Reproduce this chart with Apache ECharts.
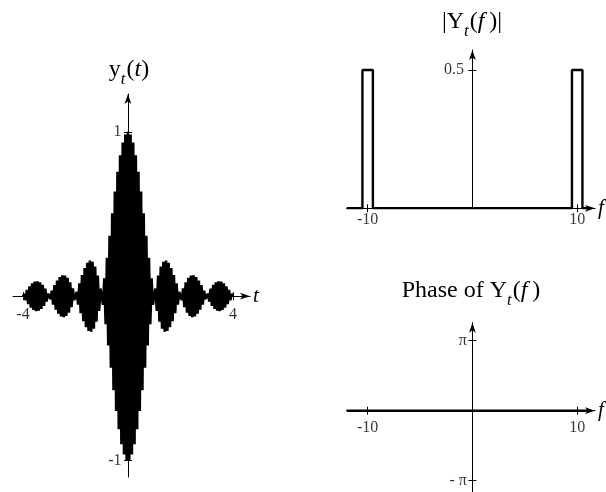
<!DOCTYPE html>
<html>
<head>
<meta charset="utf-8">
<script src="https://cdn.jsdelivr.net/npm/echarts@6/dist/echarts.min.js"></script>
<style>
  html, body { margin: 0; padding: 0; background: #fff; }
  #chart { width: 606px; height: 492px; }
</style>
</head>
<body>
<div id="chart"></div>
<script>
// y_t(t): sinc-modulated 10 Hz carrier, sampled at every carrier half-period (dt = 0.05)
const tStart = -4;
const tStep = 0.05;
const ytValues = [
  0, 0.013, -0.025, 0.038, -0.049, 0.060, -0.070, 0.078, -0.084, 0.089,
  -0.091, 0.091, -0.089, 0.085, -0.078, 0.069, -0.059, 0.046, -0.032, 0.016,
  0, -0.017, 0.034, -0.051, 0.067, -0.082, 0.095, -0.107, 0.116, -0.123,
  0.127, -0.128, 0.126, -0.121, 0.112, -0.100, 0.085, -0.067, 0.047, -0.024,
  0, 0.026, -0.052, 0.078, -0.104, 0.129, -0.152, 0.172, -0.189, 0.203,
  -0.212, 0.217, -0.216, 0.210, -0.198, 0.180, -0.156, 0.126, -0.089, 0.047,
  0, -0.052, 0.109, -0.170, 0.234, -0.300, 0.368, -0.436, 0.505, -0.572,
  0.637, -0.699, 0.757, -0.810, 0.858, -0.900, 0.935, -0.963, 0.984, -0.996,
  1.000,
  -0.996, 0.984, -0.963, 0.935, -0.900, 0.858, -0.810, 0.757, -0.699, 0.637,
  -0.572, 0.505, -0.436, 0.368, -0.300, 0.234, -0.170, 0.109, -0.052, 0,
  0.047, -0.089, 0.126, -0.156, 0.180, -0.198, 0.210, -0.216, 0.217, -0.212,
  0.203, -0.189, 0.172, -0.152, 0.129, -0.104, 0.078, -0.052, 0.026, 0,
  -0.024, 0.047, -0.067, 0.085, -0.100, 0.112, -0.121, 0.126, -0.128, 0.127,
  -0.123, 0.116, -0.107, 0.095, -0.082, 0.067, -0.051, 0.034, -0.017, 0,
  0.016, -0.032, 0.046, -0.059, 0.069, -0.078, 0.085, -0.089, 0.091, -0.091,
  0.089, -0.084, 0.078, -0.070, 0.060, -0.049, 0.038, -0.025, 0.013, 0
];
const tTicks = [-4, 4];
const ytTicks = [-1, 1];

// |Y_t(f)|: two rectangular bands of height 0.5 around +/-10
const magF = [-12, -10.5, -10.5, -9.5, -9.5, 9.5, 9.5, 10.5, 10.5, 11.2];
const magV = [0, 0, 0.5, 0.5, 0, 0, 0.5, 0.5, 0, 0];
const fTicks = [-10, 10];
const magTicks = [0.5];

// Phase of Y_t(f): zero everywhere
const phaseF = [-12, 10.9];
const phaseV = [0, 0];
const phaseTicks = [-Math.PI, Math.PI];

const FONT = 'Liberation Serif';
const BLACK = '#000';

function pairs(xs, ys) { return xs.map((x, i) => [x, ys[i]]); }
const ytData = ytValues.map((v, i) => [tStart + i * tStep, v]);

function labelFmt(v) {
  if (Math.abs(Math.abs(v) - Math.PI) < 1e-6) return v > 0 ? 'π' : '- π';
  return String(v);
}

// Primary x axis: line with arrow, lower half of tick marks
function xMain(gi, min, max, ticks, name, namePad) {
  return {
    type: 'value', gridIndex: gi, min, max, position: 'bottom',
    axisLine: { onZero: true, symbol: ['none', 'arrow'], symbolSize: [5, 10],
      lineStyle: { color: BLACK, width: 1 } },
    axisTick: { customValues: ticks, length: 4, lineStyle: { color: BLACK, width: 1 } },
    axisLabel: { show: false },
    splitLine: { show: false },
    name, nameLocation: 'end', nameGap: 3,
    nameTextStyle: { fontFamily: FONT, fontSize: 21, fontStyle: 'italic', color: BLACK,
      verticalAlign: 'middle', padding: [namePad, 0, 0, 0] }
  };
}
// Mirror x axis: upper half of each tick mark
function xMirror(gi, min, max, ticks) {
  return {
    type: 'value', gridIndex: gi, min, max, position: 'top',
    axisLine: { onZero: true, show: false },
    axisTick: { customValues: ticks, length: 4, lineStyle: { color: BLACK, width: 1 } },
    axisLabel: { show: false }, splitLine: { show: false }
  };
}
function yMain(gi, min, max, ticks) {
  return {
    type: 'value', gridIndex: gi, min, max, position: 'left',
    axisLine: { onZero: true, symbol: ['none', 'arrow'], symbolSize: [5, 10],
      lineStyle: { color: BLACK, width: 1 } },
    axisTick: { customValues: ticks, length: 4, lineStyle: { color: BLACK, width: 1 } },
    axisLabel: { show: false },
    splitLine: { show: false }
  };
}
function yMirror(gi, min, max, ticks) {
  return {
    type: 'value', gridIndex: gi, min, max, position: 'right',
    axisLine: { onZero: true, show: false },
    axisTick: { customValues: ticks, length: 4, lineStyle: { color: BLACK, width: 1 } },
    axisLabel: { show: false }, splitLine: { show: false }
  };
}

// Tick labels sitting next to the zero-crossing axes
function tickLabels(gi, points, position, distance) {
  return {
    type: 'scatter', xAxisIndex: gi, yAxisIndex: gi, silent: true,
    symbolSize: 1, itemStyle: { color: 'rgba(0,0,0,0)' },
    data: points,
    label: { show: true, position, distance, formatter: p => labelFmt(p.value[p.value[0] === 0 ? 1 : 0]),
      fontFamily: FONT, fontSize: 16, color: BLACK },
    z: 5
  };
}

const titleRich = {
  n: { fontFamily: FONT, fontSize: 24, color: BLACK },
  i: { fontFamily: FONT, fontSize: 24, fontStyle: 'italic', color: BLACK },
  s: { fontFamily: FONT, fontSize: 17, fontStyle: 'italic', color: BLACK, padding: [20, 1, 0, 0] }
};
function titleText(x, y, text) {
  return { type: 'text', x, y, style: { text, rich: titleRich, align: 'center', verticalAlign: 'middle' } };
}

const chart = echarts.init(document.getElementById('chart'), null, { renderer: 'canvas' });
chart.setOption({
  animation: false,
  backgroundColor: '#fff',
  grid: [
    { left: 13, top: 94, width: 237, height: 383 },
    { left: 346.7, top: 50, width: 248.3, height: 158.3 },
    { left: 346.7, top: 322.7, width: 248.3, height: 169.3 }
  ],
  xAxis: [
    xMain(0, -4.38, 4.65, tTicks, 't', 4),
    xMain(1, -12, 11.7, fTicks, 'f', 12),
    xMain(2, -12, 11.7, fTicks, 'f', 12),
    xMirror(0, -4.38, 4.65, tTicks),
    xMirror(1, -12, 11.7, fTicks),
    xMirror(2, -12, 11.7, fTicks)
  ],
  yAxis: [
    yMain(0, -1.1, 1.23, ytTicks),
    yMain(1, 0, 0.572, magTicks),
    yMain(2, -3.65, 3.95, phaseTicks),
    yMirror(0, -1.1, 1.23, ytTicks),
    yMirror(1, 0, 0.572, magTicks),
    yMirror(2, -3.65, 3.95, phaseTicks)
  ],
  series: [
    { type: 'line', xAxisIndex: 0, yAxisIndex: 0, data: ytData, showSymbol: false,
      lineStyle: { color: BLACK, width: 2.6 }, z: 1 },
    { type: 'line', xAxisIndex: 1, yAxisIndex: 1, data: pairs(magF, magV), showSymbol: false,
      lineStyle: { color: BLACK, width: 2.4 }, z: 3 },
    { type: 'line', xAxisIndex: 2, yAxisIndex: 2, data: pairs(phaseF, phaseV), showSymbol: false,
      lineStyle: { color: BLACK, width: 2.4 }, z: 3 },
    tickLabels(0, tTicks.map(t => [t, 0]), 'bottom', 10),
    tickLabels(0, ytTicks.map(v => [0, v]), 'left', 6),
    tickLabels(1, fTicks.map(f => [f, 0]), 'bottom', 3),
    tickLabels(1, magTicks.map(v => [0, v]), 'left', 8),
    tickLabels(2, fTicks.map(f => [f, 0]), 'bottom', 9),
    tickLabels(2, phaseTicks.map(v => [0, v]), 'left', 5)
  ],
  graphic: [
    titleText(129, 70, '{n|y}{s|t}{n|(}{i|t}{n|)}'),
    titleText(472, 22, '{n||Y}{s|t}{n|(}{i|f\u2009}{n|)|}'),
    titleText(471, 291, '{n|Phase of Y}{s|t}{n|(}{i|f\u2009}{n|)}')
  ]
});
</script>
</body>
</html>
